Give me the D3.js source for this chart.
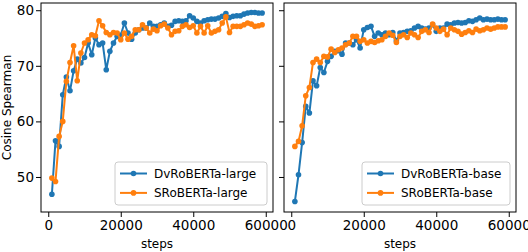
<!DOCTYPE html>
<html>
<head>
<meta charset="utf-8">
<script src="https://cdn.jsdelivr.net/npm/d3@7"></script>
<style>
  body { margin: 0; background: #fff; }
  svg { display: block; font-family: "DejaVu Sans", sans-serif; }
</style>
</head>
<body>
<div id="chart"></div>
<script>
// Data
const steps = [1000, 2000, 3000, 4000, 5000, 6000, 7000, 8000, 9000, 10000,
  11000, 12000, 13000, 14000, 15000, 16000, 17000, 18000, 19000, 20000,
  21000, 22000, 23000, 24000, 25000, 26000, 27000, 28000, 29000, 30000,
  31000, 32000, 33000, 34000, 35000, 36000, 37000, 38000, 39000, 40000,
  41000, 42000, 43000, 44000, 45000, 46000, 47000, 48000, 49000, 50000,
  51000, 52000, 53000, 54000, 55000, 56000, 57000, 58000, 59000];

const dvLarge = [46.9, 56.5, 55.5, 64.8, 68.0, 65.5, 69.1, 71.2, 70.5, 71.5,
  74.1, 72.0, 75.0, 73.8, 74.1, 69.3, 72.6, 74.1, 75.3, 75.5,
  77.7, 75.9, 74.8, 75.9, 76.5, 76.8, 76.8, 77.7, 77.1, 77.1,
  77.4, 77.7, 77.1, 77.3, 78.0, 78.1, 78.0, 78.1, 79.0, 78.6,
  78.0, 77.7, 78.1, 78.3, 78.4, 78.4, 78.6, 78.9, 79.4, 78.7,
  78.9, 79.0, 79.0, 79.3, 79.5, 79.6, 79.6, 79.5, 79.5];

const sLarge = [49.8, 49.2, 57.3, 60.0, 67.2, 70.6, 73.6, 67.3, 72.3, 74.1,
  74.7, 75.6, 75.4, 78.1, 77.2, 76.0, 75.6, 76.0, 75.9, 74.7,
  75.9, 74.8, 75.3, 76.5, 76.5, 77.4, 76.8, 75.9, 76.6, 76.3,
  77.2, 77.5, 76.8, 75.6, 76.2, 76.3, 77.1, 77.4, 76.9, 77.2,
  75.9, 77.1, 75.9, 77.2, 75.9, 76.2, 76.5, 77.7, 78.8, 76.0,
  77.1, 77.1, 77.1, 77.4, 77.7, 77.5, 77.1, 77.2, 77.4];

const dvBase = [45.6, 50.4, 56.2, 62.7, 61.5, 67.3, 66.4, 69.7, 68.8, 70.8,
  71.7, 72.6, 72.7, 72.1, 74.1, 74.1, 73.8, 74.7, 73.2, 76.5,
  76.9, 77.1, 75.3, 75.9, 75.6, 75.9, 75.6, 76.0, 74.5, 75.9,
  76.0, 76.2, 76.3, 76.8, 77.1, 76.8, 76.6, 76.8, 77.4, 76.2,
  76.8, 76.8, 77.5, 77.4, 77.7, 77.8, 77.7, 77.8, 78.1, 78.0,
  78.3, 78.6, 78.3, 78.4, 78.3, 78.3, 78.4, 78.3, 78.3];

const sBase = [55.5, 56.4, 59.2, 64.6, 66.1, 70.6, 71.2, 70.6, 71.7, 71.6,
  73.0, 72.4, 72.9, 73.2, 73.8, 74.1, 75.3, 75.3, 74.4, 74.7,
  74.1, 74.4, 74.2, 74.5, 74.7, 75.3, 75.9, 75.5, 74.2, 75.3,
  75.6, 75.1, 75.9, 75.6, 75.1, 76.2, 76.5, 76.0, 77.5, 76.8,
  76.2, 76.6, 75.6, 76.8, 76.5, 76.2, 75.7, 76.0, 76.3, 76.0,
  76.6, 76.3, 76.5, 76.8, 76.6, 76.8, 77.0, 77.0, 77.0];

const xTicks = [0, 20000, 40000, 60000];
const yTicks = [50, 60, 70, 80];

const panels = [
  { left: 41, right: 273, series: [
    { name: 'DvRoBERTa-large', values: dvLarge, color: '#1f77b4' },
    { name: 'SRoBERTa-large', values: sLarge, color: '#ff7f0e' }] },
  { left: 284, right: 516, series: [
    { name: 'DvRoBERTa-base', values: dvBase, color: '#1f77b4' },
    { name: 'SRoBERTa-base', values: sBase, color: '#ff7f0e' }] }
];

// Chart dimensions
const width = 528;
const height = 252;
const plotTop = 3;
const plotBottom = 212;

const svg = d3.select('#chart')
  .append('svg')
  .attr('width', width)
  .attr('height', height);

// Shared y scale
const yScale = d3.scaleLinear()
  .domain([43.7, 81.3])
  .range([plotBottom, plotTop]);

panels.forEach((p, i) => {
  const xScale = d3.scaleLinear()
    .domain([-2000, 62000])
    .range([p.left, p.right]);

  const g = svg.append('g');

  // lines and markers
  p.series.forEach(s => {
    const pts = steps.map((st, j) => ({ x: st, y: s.values[j] }));
    g.append('path')
      .datum(pts)
      .attr('fill', 'none')
      .attr('stroke', s.color)
      .attr('stroke-width', 2)
      .attr('stroke-linejoin', 'round')
      .attr('d', d3.line().x(d => xScale(d.x)).y(d => yScale(d.y)));
    g.selectAll(null)
      .data(pts)
      .enter()
      .append('circle')
      .attr('cx', d => xScale(d.x))
      .attr('cy', d => yScale(d.y))
      .attr('r', 2.8)
      .attr('fill', s.color);
  });

  // x axis
  const xAxis = g.append('g')
    .attr('transform', `translate(0, ${plotBottom})`)
    .call(d3.axisBottom(xScale).tickValues(xTicks).tickFormat(d3.format('d'))
      .tickSize(5).tickSizeOuter(0).tickPadding(3));
  xAxis.select('.domain').remove();
  xAxis.selectAll('text').attr('font-size', 13.5).attr('fill', '#000').attr('font-family', 'DejaVu Sans');
  xAxis.selectAll('line').attr('stroke', '#000');

  // y axis
  const yAxis = g.append('g')
    .attr('transform', `translate(${p.left}, 0)`)
    .call(d3.axisLeft(yScale).tickValues(yTicks).tickSize(5).tickSizeOuter(0).tickPadding(2));
  yAxis.select('.domain').remove();
  yAxis.selectAll('text').attr('font-size', 13.5).attr('fill', '#000').attr('font-family', 'DejaVu Sans');
  yAxis.selectAll('line').attr('stroke', '#000');
  if (i === 1) yAxis.selectAll('text').remove();

  // frame
  g.append('rect')
    .attr('x', p.left)
    .attr('y', plotTop)
    .attr('width', p.right - p.left)
    .attr('height', plotBottom - plotTop)
    .attr('fill', 'none')
    .attr('stroke', '#000')
    .attr('stroke-width', 1);

  // x label
  g.append('text')
    .attr('x', (p.left + p.right) / 2)
    .attr('y', 247.5)
    .attr('text-anchor', 'middle')
    .attr('font-size', 12)
    .text('steps');

  // legend
  const lw = i === 0 ? 152 : 148;
  const lx = p.right - 6 - lw;
  const ly = 162;
  const leg = g.append('g');
  leg.append('rect')
    .attr('x', lx)
    .attr('y', ly)
    .attr('width', lw)
    .attr('height', 43)
    .attr('rx', 3)
    .attr('fill', '#fff')
    .attr('fill-opacity', 0.8)
    .attr('stroke', '#cccccc')
    .attr('stroke-width', 1);
  p.series.forEach((s, k) => {
    const cy = ly + 11.5 + k * 19.4;
    leg.append('line')
      .attr('x1', lx + 5).attr('x2', lx + 32)
      .attr('y1', cy).attr('y2', cy)
      .attr('stroke', s.color).attr('stroke-width', 2);
    leg.append('circle')
      .attr('cx', lx + 18.5).attr('cy', cy).attr('r', 2.8)
      .attr('fill', s.color);
    leg.append('text')
      .attr('x', lx + 39)
      .attr('y', cy)
      .attr('dy', '0.35em')
      .attr('font-size', 12)
      .text(s.name);
  });
});

// y label
svg.append('text')
  .attr('transform', `translate(10.5, ${(plotTop + plotBottom) / 2}) rotate(-90)`)
  .attr('text-anchor', 'middle')
  .attr('font-size', 12)
  .text('Cosine Spearman');
</script>
</body>
</html>
